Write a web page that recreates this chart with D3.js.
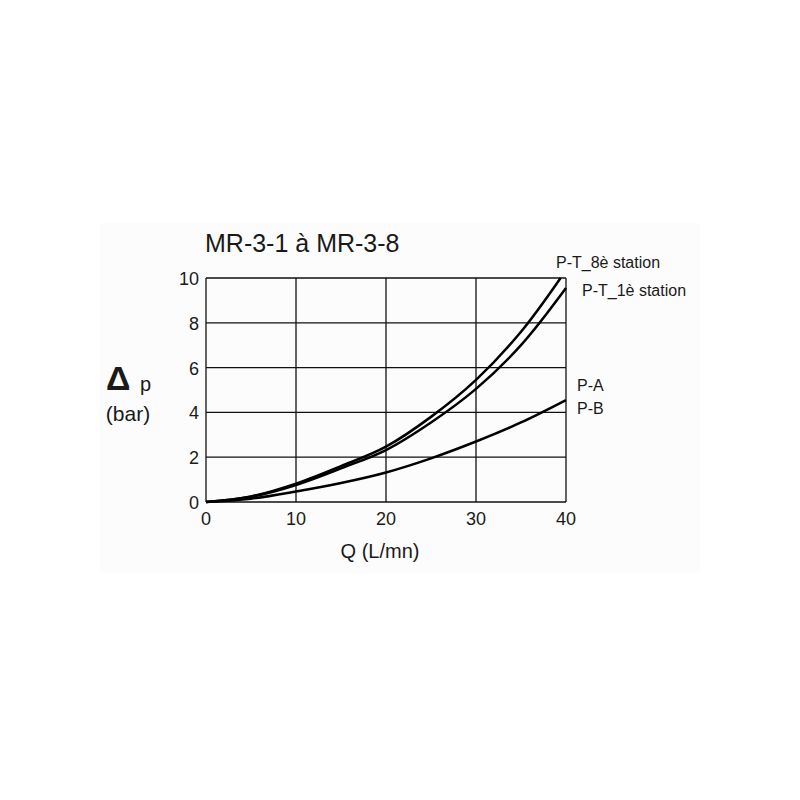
<!DOCTYPE html>
<html>
<head>
<meta charset="utf-8">
<script src="https://cdn.jsdelivr.net/npm/d3@7"></script>
<style>
  body { margin: 0; background: #fff; }
  text { font-family: "Liberation Sans", Arial, sans-serif; fill: #1a1a1a; }
</style>
</head>
<body>
<svg id="chart" width="800" height="800"></svg>
<script>
// values
var qValues = [0, 5, 10, 15, 20, 25, 30, 35, 39.4];
var qValuesFull = [0, 5, 10, 15, 20, 25, 30, 35, 40];
var pt8Values = [0, 0.25, 0.82, 1.6, 2.47, 3.8, 5.45, 7.6, 10];
var pt1Values = [0, 0.23, 0.76, 1.5, 2.32, 3.55, 5.05, 7.0, 9.55];
var pabValues = [0, 0.15, 0.47, 0.85, 1.32, 1.95, 2.7, 3.55, 4.55];
var xTicks = [0, 10, 20, 30, 40];
var yTicks = [0, 2, 4, 6, 8, 10];

var svg = d3.select("#chart");

// very faint background panel
svg.append("rect")
  .attr("x", 100).attr("y", 223)
  .attr("width", 600).attr("height", 350)
  .attr("fill", "#fcfcfc");

var x = d3.scaleLinear().domain([0, 40]).range([206, 566]);
var y = d3.scaleLinear().domain([0, 10]).range([502, 278]);

// grid
svg.append("g").selectAll("line")
  .data(xTicks).enter().append("line")
  .attr("x1", d => x(d)).attr("x2", d => x(d))
  .attr("y1", y(0)).attr("y2", y(10))
  .attr("stroke", "#111").attr("stroke-width", 1.3);

svg.append("g").selectAll("line")
  .data(yTicks).enter().append("line")
  .attr("x1", x(0)).attr("x2", x(40))
  .attr("y1", d => y(d)).attr("y2", d => y(d))
  .attr("stroke", "#111").attr("stroke-width", 1.3);

// tick labels
svg.append("g").selectAll("text")
  .data(xTicks).enter().append("text")
  .attr("x", d => x(d)).attr("y", 525)
  .attr("text-anchor", "middle")
  .style("font-size", "18px")
  .text(d => d);

svg.append("g").selectAll("text")
  .data(yTicks).enter().append("text")
  .attr("x", 199).attr("y", d => y(d) + 7)
  .attr("text-anchor", "end")
  .style("font-size", "18px")
  .text(d => d);

// curves
var line = d3.line()
  .x(d => x(d[0]))
  .y(d => y(d[1]))
  .curve(d3.curveCatmullRom);

var series = [
  { q: qValues, v: pt8Values },
  { q: qValuesFull, v: pt1Values },
  { q: qValuesFull, v: pabValues }
];

svg.append("g").selectAll("path")
  .data(series).enter().append("path")
  .attr("d", s => line(s.q.map((q, i) => [q, s.v[i]])))
  .attr("fill", "none")
  .attr("stroke", "#000")
  .attr("stroke-width", 2.5);

// titles
svg.append("text")
  .attr("x", 205).attr("y", 252)
  .style("font-size", "25px")
  .text("MR-3-1 à MR-3-8");

svg.append("text")
  .attr("x", 380).attr("y", 558)
  .attr("text-anchor", "middle")
  .style("font-size", "20px")
  .text("Q (L/mn)");

svg.append("text")
  .attr("x", 106).attr("y", 390)
  .style("font-size", "34px")
  .style("font-weight", "bold")
  .text("Δ");
svg.append("text")
  .attr("x", 140).attr("y", 391)
  .style("font-size", "20px")
  .text("p");
svg.append("text")
  .attr("x", 128).attr("y", 421)
  .attr("text-anchor", "middle")
  .style("font-size", "21px")
  .text("(bar)");

// series labels
var labels = [
  { t: "P-T_8è station", x: 556, y: 268 },
  { t: "P-T_1è station", x: 582, y: 296 },
  { t: "P-A", x: 577, y: 391 },
  { t: "P-B", x: 577, y: 414 }
];
svg.append("g").selectAll("text")
  .data(labels).enter().append("text")
  .attr("x", d => d.x).attr("y", d => d.y)
  .style("font-size", "16px")
  .text(d => d.t);
</script>
</body>
</html>
